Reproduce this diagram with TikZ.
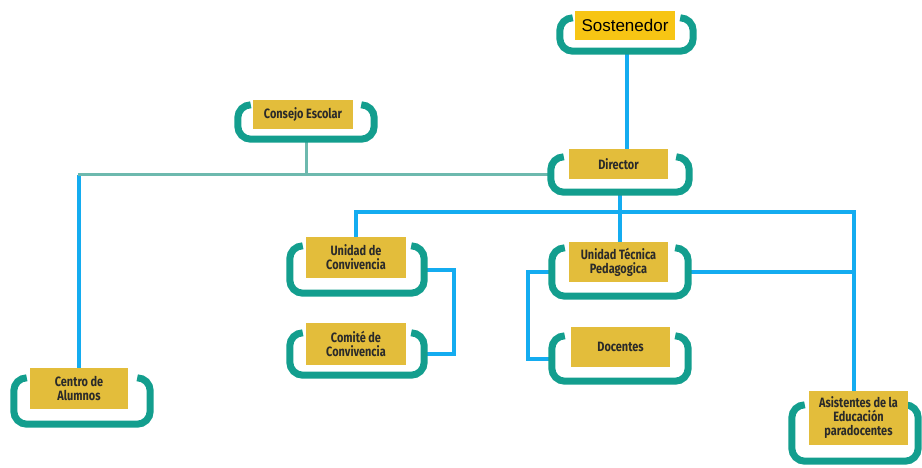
\documentclass[tikz,border=0pt]{standalone}
\usepackage{fontspec}
\setmainfont{Fira Sans}[FakeStretch=0.81]
\newfontfamily\sostfont{Liberation Sans}
\usetikzlibrary{calc, backgrounds, positioning}
\definecolor{frameteal}{HTML}{139E8E}
\definecolor{wireblue}{HTML}{14ACF0}
\definecolor{lightteal}{HTML}{6DB9AE}
\definecolor{boxyellow}{HTML}{E3BD3B}
\definecolor{sostyellow}{HTML}{F7C514}
\definecolor{textgray}{HTML}{2A2A2A}
\tikzset{
    ybox/.style = {rectangle, fill=boxyellow, inner sep=0pt, text=textgray, align=center,
      font=\bfseries\fontsize{13.5}{14}\selectfont},
    fnode/.style = {rectangle, draw=none, inner sep=0pt},
    frameline/.style = {draw=frameteal, line width=7pt, rounded corners=13pt},
    wire/.style = {draw=wireblue, line width=4pt},
    thinwire/.style = {draw=lightteal, line width=3pt}
}
% open teal frame round a box
\newcommand{\tframe}[1]{%
  \draw[frameline] ([xshift=13pt]#1.north west) -- (#1.north west) -- (#1.south west)
    -- (#1.south east) -- (#1.north east) -- ([xshift=-13pt]#1.north east);}
\begin{document}
\begin{tikzpicture}[x=1pt, y=-1pt]
    \useasboundingbox (0,0) rectangle (922,467);

    % frames
    \node [fnode, minimum width=133pt, minimum height=33pt] (sostf) at (626.5,34.5) {};
    \node [fnode, minimum width=136pt, minimum height=34pt] (consf) at (306,122) {};
    \node [fnode, minimum width=138pt, minimum height=35pt] (dirf) at (620,174.5) {};
    \node [fnode, minimum width=134pt, minimum height=47pt] (udcf) at (357,269.5) {};
    \node [fnode, minimum width=134pt, minimum height=42pt] (comf) at (357,354) {};
    \node [fnode, minimum width=136pt, minimum height=48pt] (utpf) at (620,272) {};
    \node [fnode, minimum width=136pt, minimum height=45pt] (docf) at (620,358.5) {};
    \node [fnode, minimum width=136pt, minimum height=46pt] (cenf) at (82,401) {};
    \node [fnode, minimum width=126pt, minimum height=56pt] (asif) at (855,433) {};

    \foreach \f in {sostf, consf, dirf, udcf, comf, utpf, docf, cenf, asif} {\tframe{\f}}

    % boxes
    \node [ybox, fill=sostyellow, text=black, font=\sostfont\fontsize{17}{18}\selectfont,
        minimum width=100pt, minimum height=29pt] (sost) at (625,25.5) {Sostenedor};
    \node [ybox, minimum width=100pt, minimum height=29pt] (cons) at (303,114.5) {Consejo Escolar};
    \node [ybox, minimum width=99pt, minimum height=30pt] (dir) at (618.5,164) {Director};
    \node [ybox, minimum width=100pt, minimum height=41pt] (udc) at (356,257.5) {Unidad de\\Convivencia};
    \node [ybox, minimum width=100pt, minimum height=42pt] (com) at (356,344) {Comité de\\Convivencia};
    \node [ybox, minimum width=99pt, minimum height=40pt] (utp) at (618.5,262) {Unidad Técnica\\Pedagogica};
    \node [ybox, minimum width=99pt, minimum height=40pt] (doc) at (620.5,347) {Docentes};
    \node [ybox, minimum width=98pt, minimum height=41pt] (cen) at (79,388.5) {Centro de\\Alumnos};
    \node [ybox, minimum width=99pt, minimum height=54pt] (asi) at (858.5,418) {Asistentes de la\\Educación\\paradocentes};

    \coordinate (bus) at (620,212);
    \coordinate (asitop) at ([xshift=-5pt]asi.north);

    % connectors
    \begin{scope}[on background layer]
        \draw[wire] (sostf.south) -- (sostf.south |- dir.north);
        \draw[wire] (dirf.south) -- (dirf.south |- utp.north);
        \draw[wire] (udc.north) |- (bus) -| (asitop);
        \draw[wire] (utpf.east) -- (utpf.east -| asitop);
        \draw[wire] (udcf.east) -- ++(30,0) |- (comf.east);
        \draw[wire] (utpf.west) -- ++(-24,0) |- (docf.west);
        \draw[wire] (cen.north) -- (cen.north |- dirf.west);
        \draw[thinwire] (consf.south) -- (consf.south |- dirf.west);
        \draw[thinwire] (dirf.west) -- ([xshift=-1.5pt]cen.north |- dirf.west);
    \end{scope}
\end{tikzpicture}
\end{document}
